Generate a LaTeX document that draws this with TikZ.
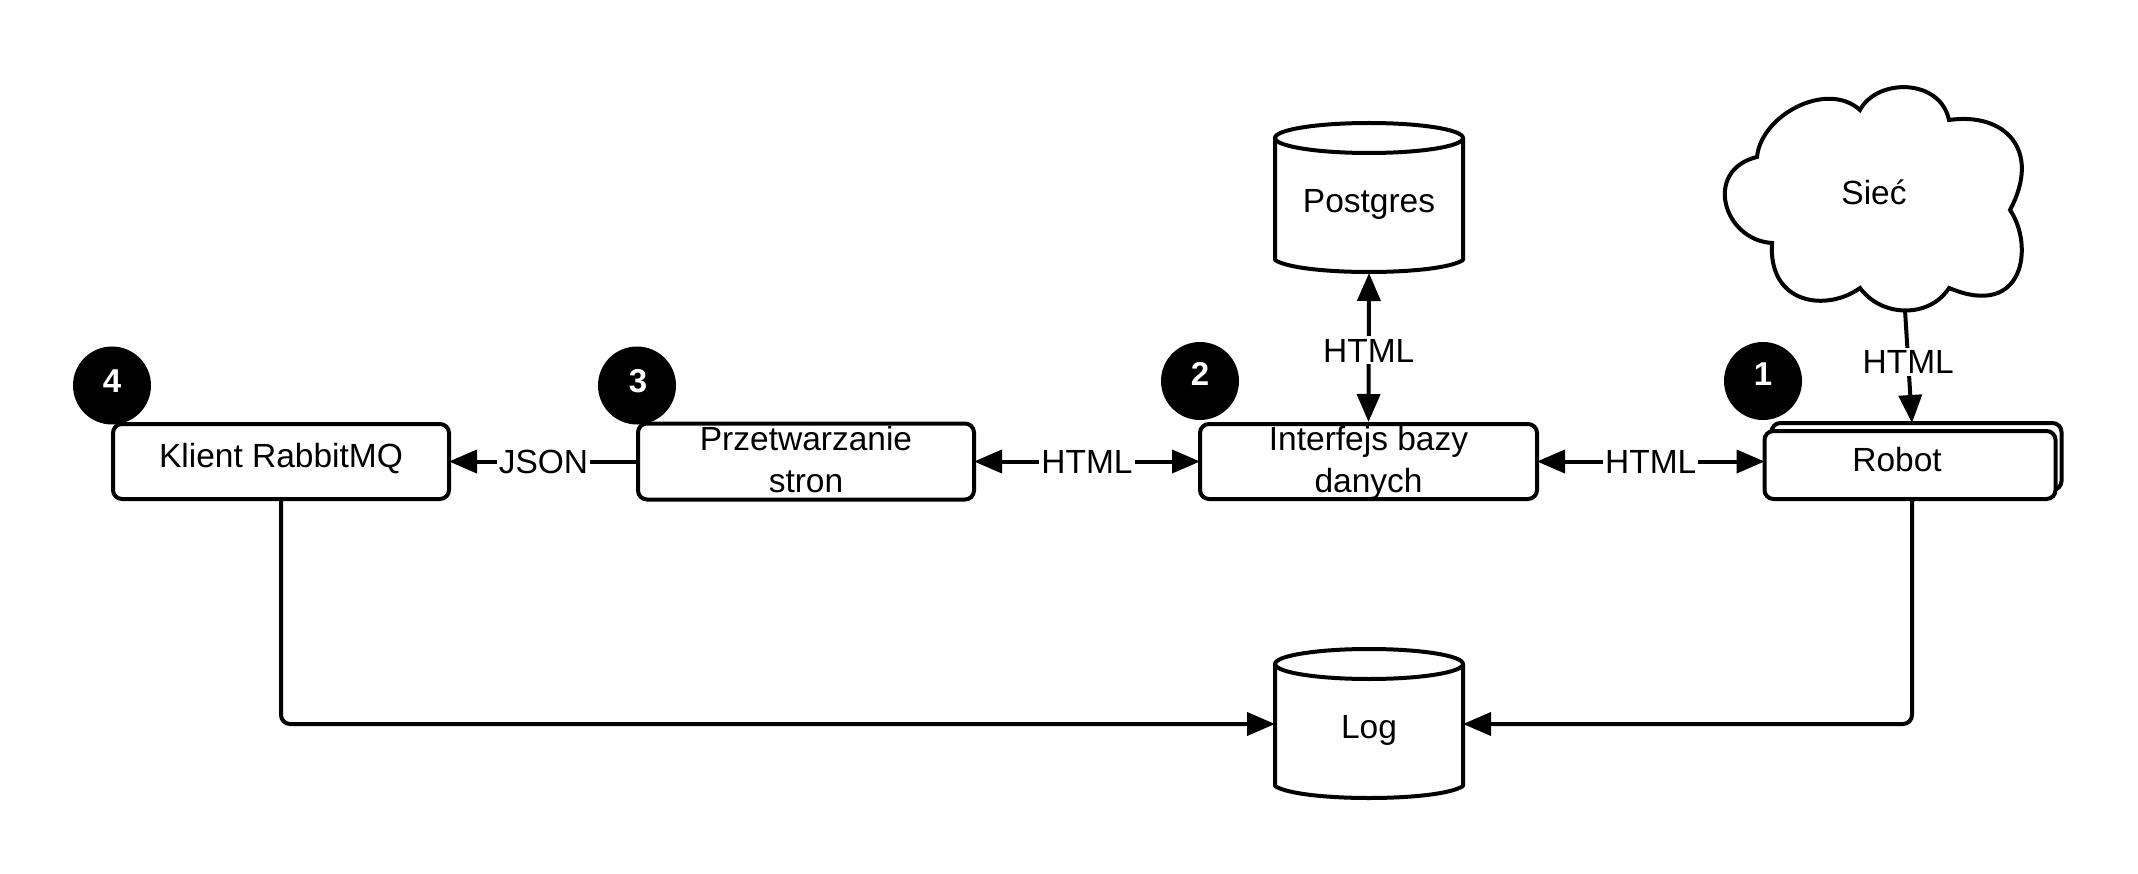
\documentclass[tikz,border=0pt]{standalone}
\usepackage{fontspec}
\setmainfont{Liberation Sans}
\usetikzlibrary{arrows.meta}
\tikzset{
  every node/.style={font=\fontsize{33.5}{42}\selectfont},
  boxa/.style={draw=black,fill=white,line width=4pt,rounded corners=9pt,inner sep=0pt,align=center,minimum height=75pt},
  badge/.style={circle,fill=black,text=white,minimum size=78pt,inner sep=0pt},
  badgenum/.style={text=white,font=\fontsize{33}{36}\bfseries\selectfont,inner sep=0pt,anchor=base},
  dbase/.style={rectangle,inner sep=0pt,outer sep=0pt,minimum width=188pt,minimum height=150pt,text height=32pt,text depth=3pt},
  dbshape/.style={line width=4pt,draw=black,line join=round},
  conn/.style={line width=4pt,draw=black},
  tip/.style={-{Triangle[length=28pt,width=23pt]}},
  biway/.style={{Triangle[length=28pt,width=23pt]}-{Triangle[length=28pt,width=23pt]}},
  lab/.style={fill=white,inner xsep=2pt,inner ysep=2pt,text height=24pt,text depth=0pt},
}
\newcommand{\dbdraw}[1]{%
  \begin{scope}[shift={(#1.center)}]
    \draw[dbshape] (0,-60) ellipse [x radius=94,y radius=15];
    \draw[dbshape] (-94,-60) -- (-94,62) .. controls (-70,78) and (70,78) .. (94,62) -- (94,-60);
  \end{scope}}
\begin{document}
\begin{tikzpicture}[x=1pt,y=-1pt]
\useasboundingbox (0,0) rectangle (2138,874);
% badges
\node[badge] (b4) at (112,385.5) {};
\node[badge] (b3) at (637,385.5) {};
\node[badge] (b2) at (1200,381) {};
\node[badge] (b1) at (1763,381) {};
\node[badgenum] (n4) at (112,392) {4};
\node[badgenum] (n3) at (638,392) {3};
\node[badgenum] (n2) at (1200,385) {2};
\node[badgenum] (n1) at (1763,385) {1};
% boxes
\node[boxa,minimum width=336pt,text height=24pt,text depth=13pt] (klient) at (281,461.5) {Klient RabbitMQ};
\node[boxa,minimum width=336pt] (przetw) at (806,461.5) {\rule{0pt}{27pt}Przetwarzanie\\stron\rule[-7pt]{0pt}{7pt}};
\node[boxa,minimum width=337pt] (iface) at (1368.5,461.5) {\rule{0pt}{26pt}Interfejs bazy\\danych};
\node[boxa,minimum width=290pt,minimum height=67pt] (robotback) at (1916.5,456.5) {};
\node[boxa,minimum width=291pt,minimum height=68pt,text height=24pt,text depth=12pt] (robot) at (1910,465) {\kern-26pt Robot};
% databases
\node[dbase] (pg) at (1369,198) {Postgres};
\node[dbase] (log) at (1369,724) {Log};
\dbdraw{pg}
\dbdraw{log}
% cloud
\draw[line width=4pt,fill=white,line join=miter]
  (1757,157) .. controls (1761,115) and (1827,80) .. (1860,110)
  .. controls (1877,78) and (1940,78) .. (1949,120)
  .. controls (2005,112) and (2042,150) .. (2010,210)
  .. controls (2034,245) and (2025,320) .. (1949,288)
  .. controls (1930,318) and (1882,318) .. (1860,288)
  .. controls (1827,312) and (1768,305) .. (1772,243)
  .. controls (1723,240) and (1703,170) .. cycle;
\node[inner sep=0pt,anchor=base] (siec) at (1874,205) {Sieć};
\coordinate (cloudb) at (1905,310);
\coordinate (robottop) at (1912,423);
% connectors
\draw[conn,tip,rounded corners=9pt] (klient.south) |- (log.west);
\draw[conn,tip,rounded corners=9pt] ([xshift=2pt]robot.south) |- (log.east);
\draw[conn,tip,shorten >=-2pt] (przetw.west) -- (klient.east) node[pos=.5,lab] (ljson) {JSON};
\draw[conn,biway,shorten <=-2pt,shorten >=-2pt] (przetw.east) -- (iface.west) node[pos=.5,lab] (lh1) {HTML};
\draw[conn,biway,shorten <=-2pt,shorten >=-2pt] (iface.east) -- ([yshift=3.5pt]robot.west) node[pos=.5,lab] (lh2) {HTML};
\draw[conn,biway] (pg.south) -- (iface.north) node[pos=.52,lab] (lh3) {HTML};
\draw[conn,tip] (cloudb) -- (robottop) node[pos=.46,lab] (lh4) {HTML};
\end{tikzpicture}
\end{document}
